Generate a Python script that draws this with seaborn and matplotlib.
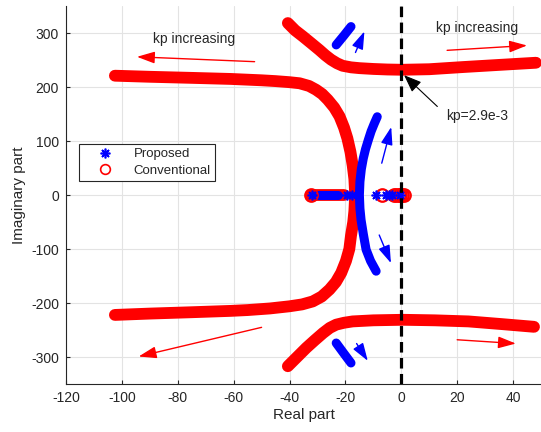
import numpy as np
import matplotlib
matplotlib.use("Agg")
import matplotlib.pyplot as plt
from matplotlib.lines import Line2D
import seaborn as sns

sns.set_theme(style="whitegrid")
plt.rcParams['font.family'] = ['Liberation Sans', 'DejaVu Sans']
plt.rcParams['axes.unicode_minus'] = False

# conventional (red) branches
conv_arc_x = [-102.5, -90, -75, -61, -50, -45, -40, -36.4, -33, -30.5, -28.3, -26.3, -24,
              -22.1, -20.5, -19.3, -18.2, -17.4, -16.8, -16.5,
              -16.8, -17.2, -18, -18.6, -19.8, -21.5, -23.4, -25.7, -28.5, -31.7, -35.5,
              -40, -47, -55, -61, -75, -90, -102.5]
conv_arc_y = [221, 219, 217, 215, 212.5, 211, 209, 207, 202, 195, 187, 176.5, 162,
              145.6, 125, 105, 80, 55, 30, 0,
              -30, -50, -75, -100, -122, -144, -161, -175, -188, -197, -202.5,
              -206, -210, -213, -214.5, -217, -219.5, -222]

conv_up_x = [-40.6, -38, -35.2, -32.2, -29.3, -27.2, -25.1, -23, -21, -18, -15, -10, -5,
             0.4, 10, 22, 35, 48.2]
conv_up_y = [318.5, 305, 293.7, 281, 268.6, 259, 250.6, 244, 239.4, 236.5, 235, 233.5, 232.5,
             232, 233, 237, 241, 245]
conv_lo_x = [-40.6, -37.3, -34, -31, -28, -25.6, -23.3, -20.5, -17.4, -10, 0.5, 12, 24, 36,
             47.5]
conv_lo_y = [-317, -300, -283, -269, -255.5, -246, -240, -236.5, -234, -232, -231, -232, -234,
             -239, -244]

conv_real_seg = [-32.2, -20.4]
conv_real_pts = [-32.2, -6.8, -2.5, -1.8, -1.0, -0.3, 0.4, 1.1]

# proposed (blue) branches
prop_arc_x = [-8.6, -9.7, -10.8, -11.8, -12.8, -13.6, -14.3, -14.8, -15, -14.8, -14.4, -13.6,
              -12.6, -11, -9]
prop_arc_y = [145, 132, 118, 102, 85, 68, 48, 25, 0, -25, -46, -72, -101, -122, -141]
prop_up_x = [-23.3, -20.6, -18]
prop_up_y = [278, 295, 312]
prop_lo_x = [-23.3, -20.6, -18]
prop_lo_y = [-274, -293, -311]
prop_real_seg = [-30.5, -22.5]
prop_real_pts = [-31.8, -19.3, -17.5, -9, -5.4, -4.3, -3.5, -0.5]

# arrows (tail, head)
red_arrows = [((-52.5, 247), (-94.6, 256)), ((16.4, 268), (45, 277)),
              ((-50, -245), (-94, -299)), ((20, -268), (41, -275))]
blue_arrows = [((-16.4, 264), (-13.2, 303)), ((-7, 59), (-3.6, 126)),
               ((-7.9, -74), (-3.7, -126)), ((-16, -275), (-12, -307))]

RED = '#ff0000'
BLUE = '#0000ff'
TXT = '#262626'

fig, ax = plt.subplots(figsize=(5.41, 4.32), dpi=100)
fig.subplots_adjust(left=0.122, right=1.0, bottom=0.111, top=0.986)

ax.axvline(0, color='black', lw=2.3, ls=(0, (3.3, 1.7)), zorder=5)

kw_red = dict(color=RED, lw=8.5, solid_capstyle='round', solid_joinstyle='round',
              sort=False, estimator=None, ax=ax)
kw_blue = dict(color=BLUE, lw=6.5, solid_capstyle='round', solid_joinstyle='round',
               sort=False, estimator=None, ax=ax)

sns.lineplot(x=conv_arc_x, y=conv_arc_y, **kw_red)
sns.lineplot(x=conv_up_x, y=conv_up_y, **kw_red)
sns.lineplot(x=conv_lo_x, y=conv_lo_y, **kw_red)
sns.lineplot(x=conv_real_seg, y=[0, 0], **kw_red)

sns.lineplot(x=prop_arc_x, y=prop_arc_y, **kw_blue)
sns.lineplot(x=prop_up_x, y=prop_up_y, **kw_blue)
sns.lineplot(x=prop_lo_x, y=prop_lo_y, **kw_blue)
sns.lineplot(x=prop_real_seg, y=[0, 0], **kw_blue)

ax.plot(conv_real_pts, np.zeros(len(conv_real_pts)), 'o', mfc='none', mec=RED,
        ms=9, mew=1.6, zorder=4)
ax.plot(prop_real_pts, np.zeros(len(prop_real_pts)), ls='none', marker=(8, 2, 0),
        color=BLUE, ms=7, mew=1.2, zorder=4)

head = '-|>,head_length=0.9,head_width=0.3'
for tail, tip in red_arrows:
    ax.annotate('', xy=tip, xytext=tail,
                arrowprops=dict(arrowstyle=head, color=RED, lw=1.0, shrinkA=0, shrinkB=0))
for tail, tip in blue_arrows:
    ax.annotate('', xy=tip, xytext=tail,
                arrowprops=dict(arrowstyle=head, color=BLUE, lw=1.0, shrinkA=0, shrinkB=0))
ax.annotate('', xy=(1, 222), xytext=(12.9, 164),
            arrowprops=dict(arrowstyle='-|>,head_length=0.9,head_width=0.35',
                            color='black', lw=0.8, shrinkA=0, shrinkB=0))

ax.text(-74, 289, 'kp increasing', ha='center', va='center', fontsize=10, color=TXT)
ax.text(27, 310, 'kp increasing', ha='center', va='center', fontsize=10, color=TXT)
ax.text(27, 146, 'kp=2.9e-3', ha='center', va='center', fontsize=10, color=TXT)

ax.set_xlim(-120, 50)
ax.set_ylim(-350, 350)
ax.set_xticks(np.arange(-120, 41, 20))
ax.set_yticks(np.arange(-300, 301, 100))
ax.grid(True, color='#e3e3e3', lw=0.8)
ax.set_facecolor('white')
for side in ['top', 'right']:
    ax.spines[side].set_visible(False)
for side in ['left', 'bottom']:
    ax.spines[side].set_color(TXT)
    ax.spines[side].set_linewidth(0.8)
ax.tick_params(direction='in', length=3, width=0.8, colors=TXT, labelsize=10,
               left=True, bottom=True, pad=5)
ax.set_xlabel('Real part', fontsize=11, color=TXT, labelpad=2)
ax.set_ylabel('Imaginary part', fontsize=11, color=TXT, labelpad=4)

handles = [Line2D([], [], ls='none', marker=(8, 2, 0), color=BLUE, ms=7, mew=1.2),
           Line2D([], [], ls='none', marker='o', mfc='none', mec=RED, ms=7, mew=1.2)]
leg = ax.legend(handles, ['Proposed', 'Conventional'], loc='upper left',
                bbox_to_anchor=(0.027, 0.636), fontsize=9.5, frameon=True, fancybox=False,
                edgecolor=TXT, framealpha=1, borderpad=0.35, handlelength=3.2,
                labelspacing=0.3, handletextpad=0.6, borderaxespad=0)
leg.get_frame().set_linewidth(0.8)

fig.savefig('out.png', dpi=100)
